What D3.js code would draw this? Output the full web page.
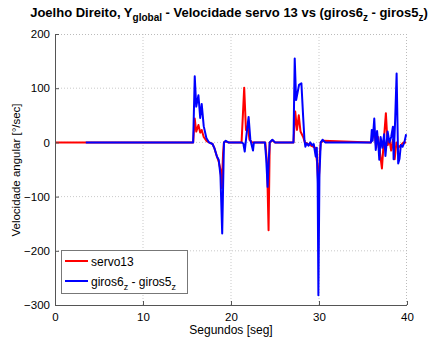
<!DOCTYPE html>
<html><head><meta charset="utf-8">
<script src="https://cdn.jsdelivr.net/npm/d3@7"></script>
<style>body{margin:0;background:#fff}svg{display:block;font-family:"Liberation Sans",Arial,sans-serif}</style>
</head><body><svg id="c" width="439" height="343"></svg>
<script>
const xTicks=[0,10,20,30,40];
const yTicks=[-300,-200,-100,0,100,200];
const servoT=[0,15.7,15.88,16.05,16.3,16.5,16.67,16.9,17.2,17.5,17.9,18.1,18.4,18.6,18.8,18.95,19.1,19.2,19.4,19.7,21.2,21.5,21.7,21.9,22.1,22.4,23.9,24.1,24.27,24.4,24.7,25.0,27.1,27.3,27.5,27.7,27.9,28.2,28.4,29.6,29.8,29.95,30.1,30.2,30.5,35.9,36.1,36.3,36.5,36.7,36.9,37.15,37.35,37.6,37.8,38.0,38.2,38.4,38.6,38.8,39.0,39.3,39.6,39.9];
const servoV=[0,0,44,20,32,18,23,10,3,0,-3,-10,-26,-35,-50,-84,-20,0,2,0,0,101,23,30,5,0,0,-40,-162,0,4,0,0,57,23,50,20,10,0,-10,-40,-88,-20,0,3,0,10,20,-10,10,-15,-48,0,54,-5,5,-15,5,-31,0,-10,-5,0,0];
const girosT=[3.5,15.7,15.88,16.05,16.3,16.5,16.67,16.9,17.2,17.5,17.9,18.1,18.4,18.6,18.8,19.0,19.2,19.4,19.7,21.2,21.4,21.56,21.8,22.0,22.2,22.5,22.6,23.85,24.0,24.16,24.3,24.4,24.7,25.0,27.1,27.24,27.4,27.73,28.0,28.2,28.35,28.45,28.6,28.8,29.0,29.2,29.4,29.63,29.75,29.85,29.93,30.05,30.2,30.4,30.7,35.9,36.0,36.1,36.28,36.45,36.6,36.75,36.85,37.0,37.2,37.4,37.55,37.8,38.0,38.2,38.4,38.48,38.65,38.82,39.0,39.15,39.3,39.5,39.7,39.9];
const girosV=[0,0,122,66,87,45,71,30,8,0,-3,-10,-26,-32,-60,-168,0,3,0,0,-2,-17,20,47,5,-15,0,0,-30,-82,-30,0,5,0,0,155,78,106,109,47,4,-8,-2,-6,0,-5,-3,-26,-10,-75,-282,-60,0,5,0,0,23,3,44,-14,21,-5,-32,10,-10,15,-25,20,0,10,29,-31,40,127,-39,-30,-5,-8,0,15];
const seriesNames=["servo13","giros6","giros5"];

const svg=d3.select("#c");
const L=55,R=407,T=34,B=305;
const x=d3.scaleLinear().domain([0,40]).range([L,R]);
const y=d3.scaleLinear().domain([-300,200]).range([B,T]);

const g=svg.append("g");
g.selectAll(".gx").data(xTicks.slice(1,-1)).enter().append("line")
 .attr("x1",d=>x(d)).attr("x2",d=>x(d)).attr("y1",T).attr("y2",B)
 .attr("stroke","#bbb").attr("stroke-width",0.8).attr("stroke-dasharray","1,2");
g.selectAll(".gy").data(yTicks.slice(1,-1)).enter().append("line")
 .attr("y1",d=>y(d)).attr("y2",d=>y(d)).attr("x1",L).attr("x2",R)
 .attr("stroke","#bbb").attr("stroke-width",0.8).attr("stroke-dasharray","1,2");
svg.append("line").attr("x1",L).attr("x2",R).attr("y1",T+0.5).attr("y2",T+0.5).attr("stroke","#bbb").attr("stroke-dasharray","1,2");
svg.append("line").attr("x1",R-0.5).attr("x2",R-0.5).attr("y1",T).attr("y2",B).attr("stroke","#bbb").attr("stroke-dasharray","1,2");

const line=d3.line().x(d=>x(d[0])).y(d=>y(d[1]));
const servo=servoT.map((t,i)=>[t,servoV[i]]);
const giros=girosT.map((t,i)=>[t,girosV[i]]);
svg.append("path").datum(servo).attr("d",line).attr("fill","none").attr("stroke","#ff0000").attr("stroke-width",2).attr("stroke-linejoin","round");
svg.append("path").datum(giros).attr("d",line).attr("fill","none").attr("stroke","#0000ff").attr("stroke-width",2).attr("stroke-linejoin","round");

const xa=svg.append("g").attr("transform",`translate(0,${B})`)
 .call(d3.axisBottom(x).tickValues(xTicks).tickSize(-4).tickPadding(8));
const ya=svg.append("g").attr("transform",`translate(${L},0)`)
 .call(d3.axisLeft(y).tickValues(yTicks).tickSize(-4).tickPadding(5));
[xa,ya].forEach(a=>{a.selectAll("path,line").attr("stroke","#555");a.selectAll("text").attr("font-size",11.5).attr("fill","#000").attr("font-family","Liberation Sans, Arial");});
ya.select(".domain").attr("d",`M0.5,${B}V${T}`);
xa.select(".domain").attr("d",`M${L},0.5H${R}`);

const tt=svg.append("text").attr("x",229).attr("y",17).attr("text-anchor","middle").attr("font-size",13).attr("font-weight","bold");
tt.append("tspan").text("Joelho Direito, Y");
tt.append("tspan").attr("dy",4).attr("font-size",10).text("global");
tt.append("tspan").attr("dy",-4).text(" - Velocidade servo 13 vs (giros6");
tt.append("tspan").attr("dy",4).attr("font-size",10).text("z");
tt.append("tspan").attr("dy",-4).text(" - giros5");
tt.append("tspan").attr("dy",4).attr("font-size",10).text("z");
tt.append("tspan").attr("dy",-4).text(")");

svg.append("text").attr("x",231).attr("y",334).attr("text-anchor","middle").attr("font-size",12).text("Segundos [seg]");
svg.append("text").attr("transform","translate(20,170) rotate(-90)").attr("text-anchor","middle").attr("font-size",11.5).text("Velocidade angular [°/sec]");

const lg=svg.append("g");
lg.append("rect").attr("x",61.5).attr("y",250.5).attr("width",126).attr("height",43).attr("fill","#fff").attr("stroke","#777");
lg.append("line").attr("x1",65).attr("x2",88).attr("y1",261).attr("y2",261).attr("stroke","#ff0000").attr("stroke-width",2);
lg.append("line").attr("x1",65).attr("x2",88).attr("y1",281).attr("y2",281).attr("stroke","#0000ff").attr("stroke-width",2);
lg.append("text").attr("x",91).attr("y",265.5).attr("font-size",12).text(seriesNames[0]);
const l2=lg.append("text").attr("x",91).attr("y",285.5).attr("font-size",12);
l2.append("tspan").text(seriesNames[1]);
l2.append("tspan").attr("dy",4).attr("font-size",9).text("z");
l2.append("tspan").attr("dy",-4).text(" - "+seriesNames[2]);
l2.append("tspan").attr("dy",4).attr("font-size",9).text("z");
</script></body></html>
